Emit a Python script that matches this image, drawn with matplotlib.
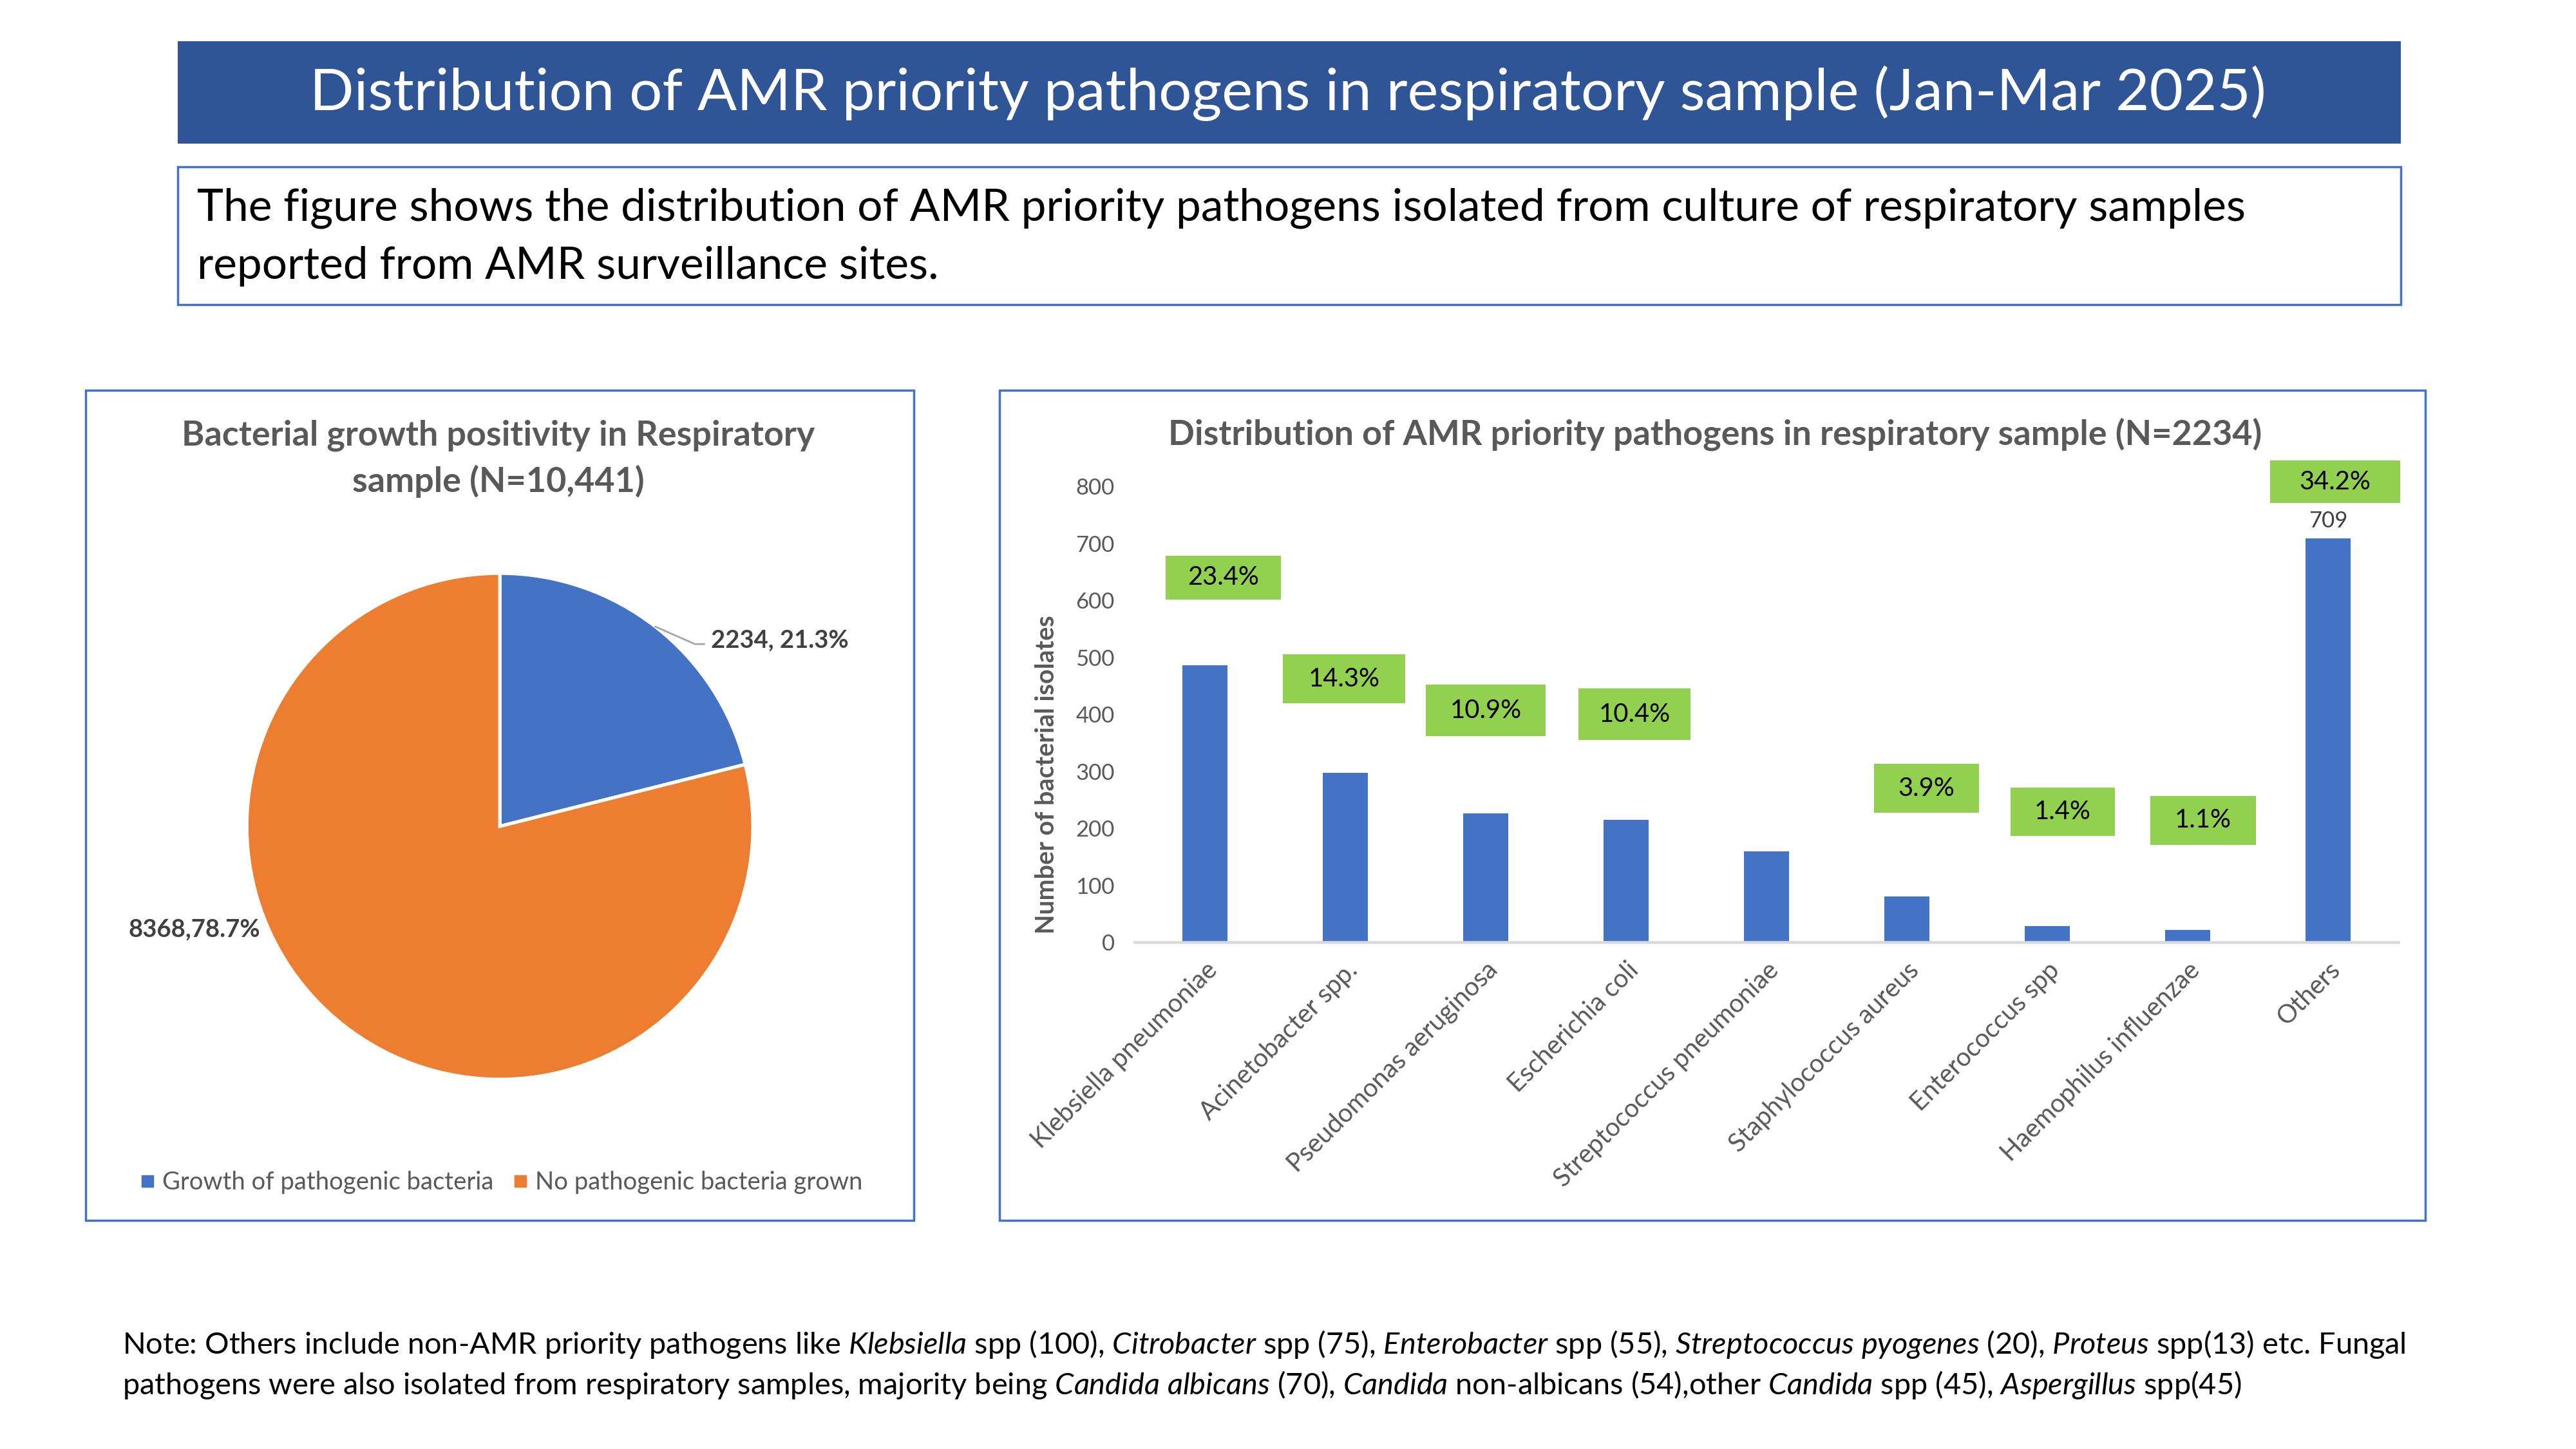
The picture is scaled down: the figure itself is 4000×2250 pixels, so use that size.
import numpy as np
import matplotlib
matplotlib.use('Agg')
import matplotlib.pyplot as plt
from matplotlib.patches import Rectangle
from matplotlib.lines import Line2D

plt.rcParams['font.family'] = ['Lato', 'DejaVu Sans']
plt.rcParams['mathtext.fontset'] = 'custom'
plt.rcParams['mathtext.rm'] = 'Lato'
plt.rcParams['mathtext.it'] = 'Lato:italic'

# data
growth_labels = ['Growth of pathogenic bacteria', 'No pathogenic bacteria grown']
growth_counts = [2234, 8368]
growth_text = ['2234, 21.3%', '8368,78.7%']

pathogens = ['Klebsiella pneumoniae', 'Acinetobacter spp.', 'Pseudomonas aeruginosa',
             'Escherichia coli', 'Streptococcus pneumoniae', 'Staphylococcus aureus',
             'Enterococcus spp', 'Haemophilus influenzae', 'Others']
isolates = [486, 297, 226, 215, 159, 80, 29, 22, 709]
share_text = ['23.4%', '14.3%', '10.9%', '10.4%', None, '3.9%', '1.4%', '1.1%', '34.2%']

# where the green call-outs sit (x shift in categories, centre y, width, height)
callout_dx = [0.13, -0.01, 0.0, 0.06, 0, 0.14, 0.11, 0.11, 0.05]
callout_y = [640, 462, 407, 400, 0, 270, 229, 214, 808]
callout_w = [0.82, 0.87, 0.85, 0.80, 0, 0.75, 0.74, 0.75, 0.93]
callout_h = [77, 86, 90, 90, 0, 86, 85, 86, 75]

BLUE = '#4472C4'
ORANGE = '#ED7D31'
GREEN = '#92D050'
GREY = '#595959'

fig = plt.figure(figsize=(16, 9), dpi=250)

# header banner and description box
fig.patches.append(Rectangle((0.069, 0.901), 0.863, 0.0706, transform=fig.transFigure,
                             facecolor='#2F5597', edgecolor='none'))
fig.text(0.5, 0.9355, 'Distribution of AMR priority pathogens in respiratory sample (Jan-Mar 2025)',
         ha='center', va='center', color='white', fontsize=26, fontweight='normal')
fig.patches.append(Rectangle((0.069, 0.790), 0.863, 0.095, transform=fig.transFigure,
                             facecolor='none', edgecolor=BLUE, lw=1.0))
fig.text(0.0765, 0.8476, 'The figure shows the distribution of AMR priority pathogens isolated from culture of respiratory samples',
         ha='left', va='baseline', fontsize=20, color='black')
fig.text(0.0765, 0.8076, 'reported from AMR surveillance sites.',
         ha='left', va='baseline', fontsize=20, color='black')

# panel frames
fig.patches.append(Rectangle((0.0332, 0.158), 0.3216, 0.5727, transform=fig.transFigure,
                             facecolor='none', edgecolor=BLUE, lw=1.0))
fig.patches.append(Rectangle((0.388, 0.158), 0.5535, 0.5727, transform=fig.transFigure,
                             facecolor='none', edgecolor=BLUE, lw=1.0))

# pie
ax_pie = fig.add_axes([0.0958, 0.2551, 0.1965, 0.3493])
wedges, _ = ax_pie.pie(growth_counts, colors=[BLUE, ORANGE], startangle=90, counterclock=False,
                       wedgeprops=dict(edgecolor='white', linewidth=1.5))
ax_pie.set_xlim(-1, 1)
ax_pie.set_ylim(-1, 1)
ax_pie.set_aspect('equal')

w0 = wedges[0]
mid = np.deg2rad((w0.theta1 + w0.theta2) / 2)
p0 = (np.cos(mid), np.sin(mid))
ax_pie.plot([p0[0], 0.771, 0.807], [p0[1], 0.720, 0.720], color='#A6A6A6', lw=0.8, clip_on=False)
ax_pie.text(0.835, 0.735, growth_text[0], ha='left', va='center', fontsize=11,
            fontweight='bold', color='#404040', clip_on=False)
ax_pie.text(-0.947, -0.407, growth_text[1], ha='right', va='center', fontsize=11,
            fontweight='bold', color='#404040', clip_on=False)

fig.text(0.1935, 0.6996, 'Bacterial growth positivity in Respiratory', ha='center', va='center',
         fontsize=15.5, fontweight='bold', color=GREY)
fig.text(0.1935, 0.668, 'sample (N=10,441)', ha='center', va='center',
         fontsize=15.5, fontweight='bold', color=GREY)

handles = [Line2D([], [], marker='s', linestyle='none', color=c, markersize=4.5) for c in [BLUE, ORANGE]]
fig.legend(handles, growth_labels, loc='center', bbox_to_anchor=(0.1937, 0.184), ncol=2,
           frameon=False, fontsize=11, labelcolor=GREY, handletextpad=0.1, columnspacing=0.6,
           handlelength=1.0)

# bar chart
ax = fig.add_axes([0.4405, 0.3497, 0.4905, 0.3146])
x = np.arange(len(pathogens))
ax.bar(x, isolates, width=0.32, color=BLUE, zorder=2)
ax.set_xlim(-0.5, len(pathogens) - 0.5)
ax.set_ylim(0, 800)
ax.set_yticks(range(0, 801, 100))
for s in ['top', 'right', 'left']:
    ax.spines[s].set_visible(False)
ax.spines['bottom'].set_color('#D9D9D9')
ax.spines['bottom'].set_linewidth(1.3)
ax.tick_params(axis='both', length=0, labelsize=10, labelcolor=GREY)
ax.tick_params(axis='y', pad=9)
ax.set_xticks(x)
ax.set_xticklabels(pathogens, rotation=45, ha='right', va='top', rotation_mode='anchor', fontsize=11.5)
ax.tick_params(axis='x', pad=7)

ax.text(-0.0694, 0.368, 'Number of bacterial isolates', transform=ax.transAxes, rotation=90,
        ha='center', va='center', fontsize=11.4, fontweight='bold', color=GREY)

for i, txt in enumerate(share_text):
    if txt is None:
        continue
    cx = x[i] + callout_dx[i]
    ax.add_patch(Rectangle((cx - callout_w[i] / 2, callout_y[i] - callout_h[i] / 2),
                           callout_w[i], callout_h[i], facecolor=GREEN, edgecolor='none',
                           clip_on=False, zorder=3))
    ax.text(cx, callout_y[i], txt, ha='center', va='center', fontsize=11.5, color='black',
            zorder=4, clip_on=False)

ax.annotate(str(isolates[-1]), (x[-1], isolates[-1]), xytext=(0, 3), textcoords='offset points',
            ha='center', va='bottom', fontsize=10, color='#404040')

fig.text(0.6657, 0.7005, 'Distribution of AMR priority pathogens in respiratory sample (N=2234)',
         ha='center', va='center', fontsize=15.5, fontweight='bold', color=GREY)

# note
note1 = (r'Note: Others include non-AMR priority pathogens like $\it{Klebsiella}$ spp (100), '
         r'$\it{Citrobacter}$ spp (75), $\it{Enterobacter}$ spp (55), $\it{Streptococcus\ pyogenes}$ (20), '
         r'$\it{Proteus}$ spp(13) etc. Fungal')
note2 = (r'pathogens were also isolated from respiratory samples, majority being $\it{Candida\ albicans}$ (70), '
         r'$\it{Candida}$ non-albicans (54),other $\it{Candida}$ spp (45), $\it{Aspergillus}$ spp(45)')
fig.text(0.0475, 0.072, note1, ha='left', va='center', fontsize=13.5, color='black')
fig.text(0.0475, 0.0444, note2, ha='left', va='center', fontsize=13.5, color='black')

fig.savefig('out.png', dpi=250, facecolor='white')
